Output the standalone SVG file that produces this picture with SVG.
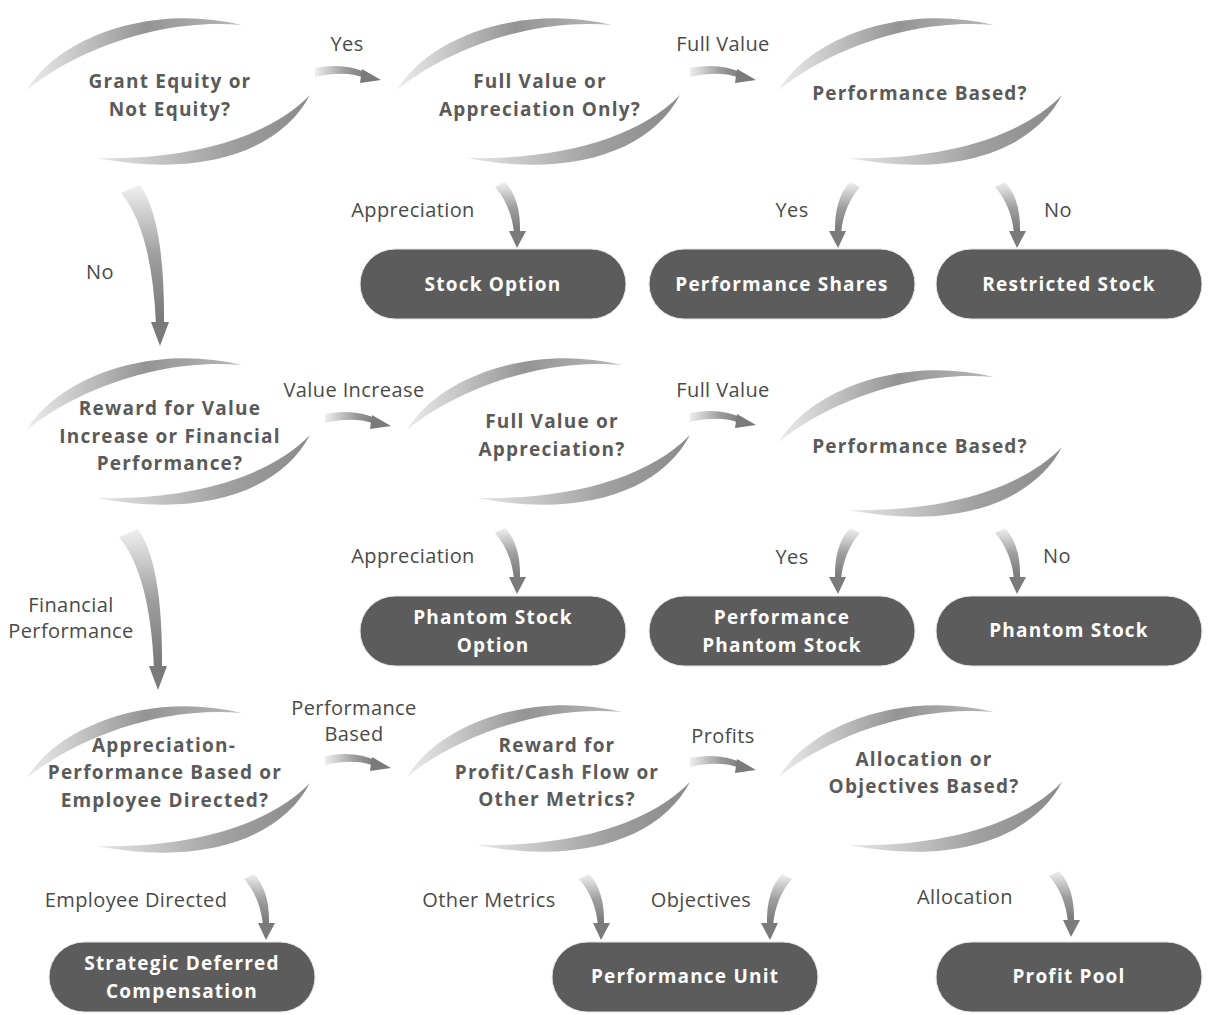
<svg xmlns="http://www.w3.org/2000/svg" xmlns:xlink="http://www.w3.org/1999/xlink" width="1211" height="1015" viewBox="0 0 1211 1015">
<style>
.q{font-family:"Open Sans","Liberation Sans",sans-serif;font-weight:bold;font-size:19px;letter-spacing:1.2px;fill:#5a5a5a;text-anchor:middle}
.t{font-family:"Open Sans","Liberation Sans",sans-serif;font-weight:bold;font-size:19px;letter-spacing:1.2px;fill:#ffffff;text-anchor:middle}
.l{font-family:"Open Sans","Liberation Sans",sans-serif;font-size:20px;letter-spacing:0.4px;fill:#4a4a4a;text-anchor:middle}
.pill{fill:#5c5c5c;stroke:#e6e6e6;stroke-width:1}
.ah{fill:url(#gh)}
.av{fill:url(#gv)}
</style>
<defs>
<linearGradient id="gTop" x1="0" y1="0" x2="1" y2="0">
<stop offset="0" stop-color="#ececec"/><stop offset="0.55" stop-color="#949494"/><stop offset="1" stop-color="#b8b8b8"/>
</linearGradient>
<linearGradient id="gBot" x1="0" y1="0" x2="1" y2="0">
<stop offset="0" stop-color="#e6e6e6"/><stop offset="0.6" stop-color="#a0a0a0"/><stop offset="1" stop-color="#8a8a8a"/>
</linearGradient>
<linearGradient id="gh" x1="0" y1="0" x2="1" y2="0">
<stop offset="0" stop-color="#eeeeee"/><stop offset="0.6" stop-color="#999"/><stop offset="1" stop-color="#7a7a7a"/>
</linearGradient>
<linearGradient id="gv" x1="0" y1="0" x2="0" y2="1">
<stop offset="0" stop-color="#f0f0f0"/><stop offset="0.5" stop-color="#9e9e9e"/><stop offset="1" stop-color="#777"/>
</linearGradient>
<g id="cres">
<path d="M27,90 C58,38 150,3 242,25 C150,17 65,58 27,90 Z" fill="url(#gTop)"/>
<path d="M310,95 C280,152 200,178 97,158 C190,160 268,138 310,95 Z" fill="url(#gBot)"/>
</g>
<g id="ah">
<path class="ah" d="M0,-4 Q30,-10 52,1 L50,6 Q30,-2 0,5 Z"/>
<path fill="#7a7a7a" d="M47,-3 L66,8 L45,11 Z"/>
</g>
<g id="av">
<path class="av" d="M-5,2 Q11,20 14,48 L20,48 Q21,14 5,-3 Z"/>
<path fill="#7a7a7a" d="M9,46 L26,46 L17,63 Z"/>
</g>
<g id="avBig">
<path class="av" d="M-9,3 Q22,40 26,135 L34,135 Q35,30 10,-5 Z"/>
<path fill="#7a7a7a" d="M21,132 L39,132 L30,156 Z"/>
</g>
</defs>
<rect width="1211" height="1015" fill="#ffffff"/>

<g id="connectors">
<use href="#ah" transform="translate(315,72)"/>
<use href="#ah" transform="translate(690,72)"/>
<use href="#ah" transform="translate(325,418)"/>
<use href="#ah" transform="translate(690,417)"/>
<use href="#ah" transform="translate(325,760)"/>
<use href="#ah" transform="translate(690,762)"/>
<use href="#avBig" transform="translate(130,190)"/>
<use href="#avBig" transform="translate(128,534)"/>
<use href="#av" transform="translate(500,185)"/>
<use href="#av" transform="translate(855,185) scale(-1,1)"/>
<use href="#av" transform="translate(1000,185)"/>
<use href="#av" transform="translate(500,531)"/>
<use href="#av" transform="translate(855,531) scale(-1,1)"/>
<use href="#av" transform="translate(1000,531)"/>
<use href="#av" transform="translate(249,877)"/>
<use href="#av" transform="translate(584,877)"/>
<use href="#av" transform="translate(787,877) scale(-1,1)"/>
<use href="#av" transform="translate(1054,874)"/>
<text class="l" x="347" y="51">Yes</text>
<text class="l" x="723" y="51">Full Value</text>
<text class="l" x="413" y="217">Appreciation</text>
<text class="l" x="792" y="217">Yes</text>
<text class="l" x="1058" y="217">No</text>
<text class="l" x="100" y="279">No</text>
<text class="l" x="354" y="397">Value Increase</text>
<text class="l" x="723" y="397">Full Value</text>
<text class="l" x="413" y="563">Appreciation</text>
<text class="l" x="792" y="564">Yes</text>
<text class="l" x="1057" y="563">No</text>
<text class="l" x="71" y="612">Financial</text>
<text class="l" x="71" y="638">Performance</text>
<text class="l" x="354" y="715">Performance</text>
<text class="l" x="354" y="741">Based</text>
<text class="l" x="723" y="743">Profits</text>
<text class="l" x="136" y="907">Employee Directed</text>
<text class="l" x="489" y="907">Other Metrics</text>
<text class="l" x="701" y="907">Objectives</text>
<text class="l" x="965" y="904">Allocation</text>
</g>

<g id="n1"><use href="#cres"/><text class="q" x="170" y="88">Grant Equity or</text><text class="q" x="170" y="116">Not Equity?</text></g>
<g id="n2"><use href="#cres" transform="translate(370,0)"/><text class="q" x="540" y="88">Full Value or</text><text class="q" x="540" y="116">Appreciation Only?</text></g>
<g id="n3"><use href="#cres" transform="translate(752,0)"/><text class="q" x="920" y="100">Performance Based?</text></g>
<g id="n4"><use href="#cres" transform="translate(0,340)"/><text class="q" x="170" y="415">Reward for Value</text><text class="q" x="170" y="443">Increase or Financial</text><text class="q" x="170" y="470">Performance?</text></g>
<g id="n5"><use href="#cres" transform="translate(380,340)"/><text class="q" x="552" y="428">Full Value or</text><text class="q" x="552" y="456">Appreciation?</text></g>
<g id="n6"><use href="#cres" transform="translate(752,352)"/><text class="q" x="920" y="453">Performance Based?</text></g>
<g id="n7"><use href="#cres" transform="translate(0,688)"/><text class="q" x="164" y="752">Appreciation-</text><text class="q" x="165" y="779">Performance Based or</text><text class="q" x="165" y="807">Employee Directed?</text></g>
<g id="n8"><use href="#cres" transform="translate(380,687)"/><text class="q" x="557" y="752">Reward for</text><text class="q" x="557" y="779">Profit/Cash Flow or</text><text class="q" x="557" y="806">Other Metrics?</text></g>
<g id="n9"><use href="#cres" transform="translate(752,687)"/><text class="q" x="924" y="766">Allocation or</text><text class="q" x="924" y="793">Objectives Based?</text></g>

<g id="t1"><rect class="pill" x="360" y="249" width="266" height="70" rx="35"/><text class="t" x="493" y="291">Stock Option</text></g>
<g id="t2"><rect class="pill" x="649" y="249" width="266" height="70" rx="35"/><text class="t" x="782" y="291">Performance Shares</text></g>
<g id="t3"><rect class="pill" x="936" y="249" width="266" height="70" rx="35"/><text class="t" x="1069" y="291">Restricted Stock</text></g>
<g id="t4"><rect class="pill" x="360" y="596" width="266" height="70" rx="35"/><text class="t" x="493" y="624">Phantom Stock</text><text class="t" x="493" y="652">Option</text></g>
<g id="t5"><rect class="pill" x="649" y="596" width="266" height="70" rx="35"/><text class="t" x="782" y="624">Performance</text><text class="t" x="782" y="652">Phantom Stock</text></g>
<g id="t6"><rect class="pill" x="936" y="596" width="266" height="70" rx="35"/><text class="t" x="1069" y="637">Phantom Stock</text></g>
<g id="t7"><rect class="pill" x="49" y="942" width="266" height="70" rx="35"/><text class="t" x="182" y="970">Strategic Deferred</text><text class="t" x="182" y="998">Compensation</text></g>
<g id="t8"><rect class="pill" x="552" y="942" width="266" height="70" rx="35"/><text class="t" x="685" y="983">Performance Unit</text></g>
<g id="t9"><rect class="pill" x="936" y="942" width="266" height="70" rx="35"/><text class="t" x="1069" y="983">Profit Pool</text></g>
</svg>
